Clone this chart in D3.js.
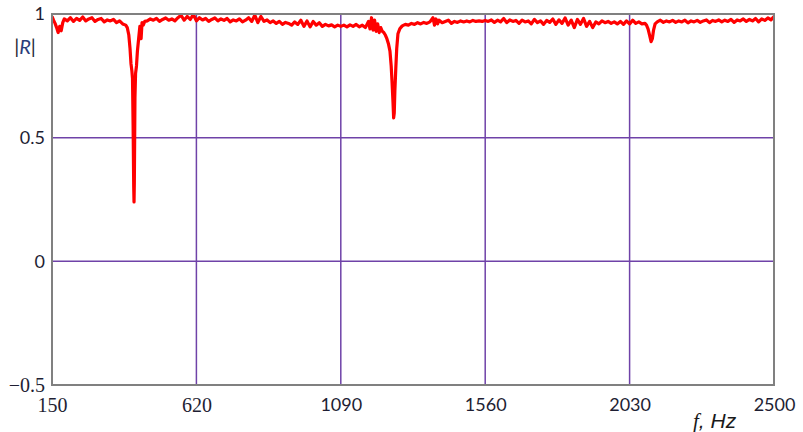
<!DOCTYPE html>
<html>
<head>
<meta charset="utf-8">
<script src="https://cdn.jsdelivr.net/npm/d3@7"></script>
<style>
  body { margin: 0; background: #fff; }
</style>
</head>
<body>
<div id="chart"></div>
<script>

// frequency samples (Hz) and |R|
var freqHz = [
  150,155,160,165,170,175,180,185,190,200,
  210,220,230,240,250,260,270,280,290,300,
  310,320,330,340,350,360,370,380,390,395,
  400,404,407,410,412,414,416,417,418,420,
  422,425,428,432,436,440,443,447,452,
  460,470,480,490,500,510,520,530,540,550,
  560,570,580,590,600,610,620,630,640,650,
  660,670,680,690,700,710,720,730,740,750,
  760,770,780,790,800,810,820,830,840,850,
  860,870,880,890,900,910,920,930,940,950,
  960,970,980,990,1000,1010,1020,1030,1040,1050,
  1060,1070,1080,1090,
  1100,1110,1120,1130,1140,1150,1160,1170,1180,1185,
  1190,1195,1200,1205,1210,1215,1220,1225,1230,1235,
  1240,1245,1250,1254,1257,1260,1262,1264,1266,1269,
  1272,1276,1282,1290,1300,1310,1320,1330,1340,1350,
  1360,1370,1380,1390,1395,1400,1405,1410,1420,1430,
  1440,1450,1460,1470,1480,1490,1500,1510,1520,1530,
  1540,1550,1560,1570,1580,1590,1600,1610,1620,1630,
  1640,1650,1660,1670,1680,1690,1700,1710,1720,1730,
  1740,1750,1760,1770,1780,1790,1800,1810,1820,1830,
  1840,1850,1860,1870,1880,1890,1900,1910,1920,1930,
  1940,1950,1960,1970,1980,1990,2000,2010,2020,2030,
  2040,2050,2060,2070,2080,2085,2090,2095,2100,2104,
  2108,2113,2120,2130,2140,2150,2160,2170,2180,2190,
  2200,2210,2220,2230,2240,2250,2260,2270,2280,2290,
  2300,2310,2320,2330,2340,2350,2360,2370,2380,2390,
  2400,2410,2420,2430,2440,2450,2460,2470,2480,2490,
  2500
];

var absR = [
  0.99,0.975,0.962,0.945,0.925,0.95,0.932,0.965,0.98,0.972,
  0.985,0.97,0.982,0.974,0.988,0.972,0.98,0.985,0.97,0.978,
  0.982,0.968,0.976,0.972,0.978,0.965,0.972,0.96,0.955,0.945,
  0.915,0.86,0.8,0.77,0.74,0.55,0.3,0.24,0.32,0.66,
  0.76,0.79,0.85,0.9,0.95,0.9,0.965,0.955,0.97,
  0.972,0.98,0.975,0.982,0.97,0.978,0.984,0.975,0.98,0.972,
  0.985,0.995,0.975,0.99,0.978,0.998,0.972,0.985,0.976,0.982,
  0.97,0.978,0.984,0.972,0.98,0.974,0.982,0.968,0.976,0.972,
  0.98,0.968,0.975,0.985,0.97,0.995,0.965,0.99,0.97,0.976,
  0.965,0.972,0.962,0.97,0.958,0.966,0.962,0.955,0.968,0.958,
  0.975,0.95,0.972,0.948,0.97,0.955,0.965,0.95,0.958,0.952,
  0.956,0.948,0.955,0.95,
  0.955,0.948,0.956,0.95,0.958,0.948,0.955,0.945,0.97,0.94,
  0.985,0.935,0.975,0.93,0.96,0.925,0.945,0.93,0.925,0.915,
  0.9,0.88,0.85,0.79,0.72,0.64,0.58,0.6,0.69,0.78,
  0.86,0.92,0.94,0.952,0.958,0.955,0.962,0.958,0.965,0.96,
  0.966,0.962,0.968,0.985,0.955,0.98,0.96,0.975,0.965,0.97,
  0.975,0.962,0.97,0.966,0.972,0.968,0.972,0.968,0.974,0.97,
  0.972,0.97,0.974,0.97,0.976,0.966,0.975,0.968,0.982,0.965,
  0.976,0.97,0.974,0.962,0.975,0.968,0.972,0.96,0.978,0.965,
  0.972,0.958,0.974,0.966,0.98,0.958,0.976,0.962,0.984,0.955,
  0.975,0.945,0.978,0.958,0.982,0.95,0.97,0.945,0.968,0.96,
  0.972,0.965,0.97,0.962,0.968,0.96,0.97,0.958,0.972,0.96,
  0.975,0.962,0.968,0.96,0.962,0.955,0.94,0.915,0.888,0.9,
  0.935,0.96,0.968,0.975,0.966,0.972,0.968,0.974,0.966,0.972,
  0.968,0.975,0.964,0.972,0.968,0.974,0.966,0.972,0.976,0.965,
  0.974,0.97,0.976,0.968,0.975,0.97,0.978,0.966,0.976,0.972,
  0.98,0.97,0.978,0.972,0.982,0.968,0.98,0.974,0.984,0.976,
  0.99
];

var xTicks = [150, 620, 1090, 1560, 2030, 2500];
var yTicks = [-0.5, 0, 0.5, 1];
var serifTicks = [150, 620, -0.5];   // these labels are set in a serif face in the original

function drawChart(containerId){

    var width = 803, height = 432;
    var margin = {top: 14, right: 29, bottom: 47, left: 52};

    var svg = d3.select('#' + containerId).append('svg')
        .attr('width', width)
        .attr('height', height);

    var x = d3.scaleLinear()
        .domain([150, 2500])
        .range([margin.left, width - margin.right]);

    var y = d3.scaleLinear()
        .domain([-0.5, 1])
        .range([height - margin.bottom, margin.top]);

    var fmt = function(d){ return d < 0 ? '\u2212' + Math.abs(d) : String(d); };

    // grid
    svg.append('g').selectAll('line')
        .data(xTicks.slice(1, -1))
        .join('line')
        .attr('x1', x).attr('x2', x)
        .attr('y1', y(1)).attr('y2', y(-0.5))
        .attr('stroke', '#6f42a8')
        .attr('stroke-width', 1.5);

    svg.append('g').selectAll('line')
        .data(yTicks.slice(1, -1))
        .join('line')
        .attr('x1', x(150)).attr('x2', x(2500))
        .attr('y1', y).attr('y2', y)
        .attr('stroke', '#6f42a8')
        .attr('stroke-width', 1.5);

    // curve
    svg.append('clipPath').attr('id', 'plotclip')
      .append('rect')
        .attr('x', x(150)).attr('y', y(1) - 1)
        .attr('width', x(2500) - x(150))
        .attr('height', y(-0.5) - y(1) + 1);

    var line = d3.line()
        .x(function(d, i){ return x(freqHz[i]); })
        .y(function(d){ return y(d); });

    svg.append('path')
        .attr('clip-path', 'url(#plotclip)')
        .attr('fill', 'none')
        .attr('stroke', '#ff0000')
        .attr('stroke-width', 3.2)
        .attr('stroke-linejoin', 'round')
        .attr('d', line(absR));

    // frame
    svg.append('rect')
        .attr('x', x(150)).attr('y', y(1))
        .attr('width', x(2500) - x(150))
        .attr('height', y(-0.5) - y(1))
        .attr('fill', 'none')
        .attr('stroke', '#808080')
        .attr('stroke-width', 2);

    // axes
    var xAxis = g => g
        .attr('transform', `translate(0,${y(-0.5) + 10})`)
        .call(d3.axisBottom(x).tickValues(xTicks).tickSize(0).tickFormat(fmt))
        .call(g => g.select('.domain').remove());

    var yAxis = g => g
        .attr('transform', `translate(${x(150) - 4},0)`)
        .call(d3.axisLeft(y).tickValues(yTicks).tickSize(0).tickFormat(fmt))
        .call(g => g.select('.domain').remove());

    svg.append('g').call(xAxis);
    svg.append('g').call(yAxis);

    svg.selectAll('.tick text')
        .attr('fill', '#1e1e33')
        .style('font-family', d => serifTicks.indexOf(d) >= 0 ? '"Liberation Serif", serif' : 'Lato, sans-serif')
        .style('font-size', d => serifTicks.indexOf(d) >= 0 ? '20px' : '18px');

    // axis titles
    var yt = svg.append('text')
        .attr('x', 25).attr('y', 54)
        .attr('text-anchor', 'middle')
        .attr('fill', '#1e1e33')
        .style('font-family', 'Lato, sans-serif')
        .style('font-size', '20px');
    yt.append('tspan').text('|');
    yt.append('tspan').style('font-style', 'italic').attr('fill', '#2a3d7a').text('R');
    yt.append('tspan').text('|');

    var xt = svg.append('text')
        .attr('x', 693).attr('y', 428)
        .attr('fill', '#1a1a1a')
        .style('font-size', '21px')
        .style('font-style', 'italic');
    xt.append('tspan').style('font-family', '"Liberation Serif", serif').text('f');
    xt.append('tspan').style('font-family', '"Liberation Sans", sans-serif').text(', Hz');
}

drawChart('chart');

</script>
</body>
</html>
